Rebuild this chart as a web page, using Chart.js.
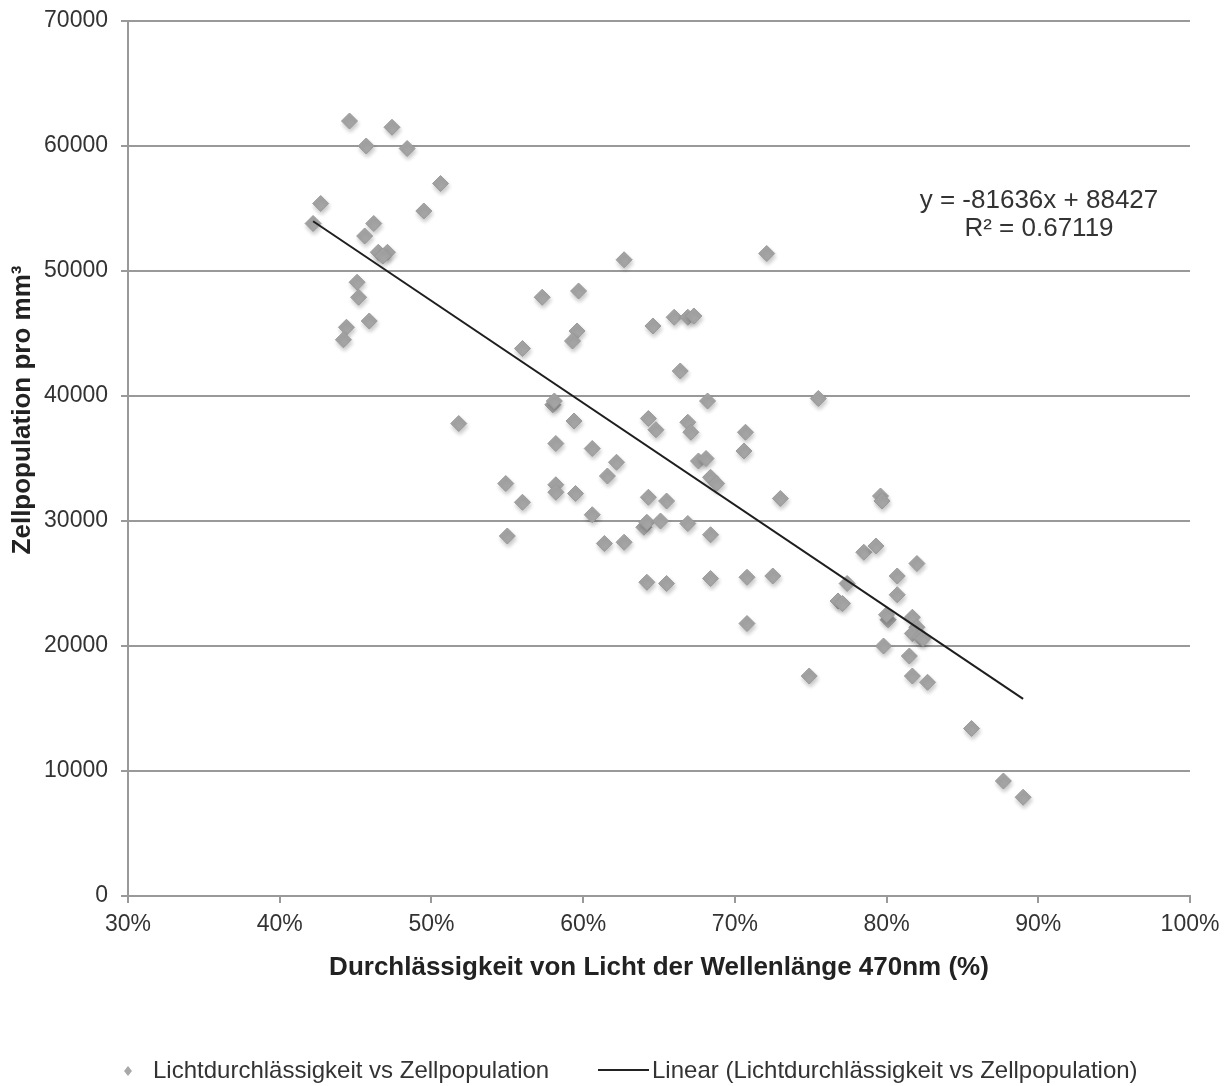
<!DOCTYPE html>
<html>
<head>
<meta charset="utf-8">
<script src="https://cdn.jsdelivr.net/npm/chart.js@4.4.1/dist/chart.umd.min.js"></script>
<style>
  body { margin: 0; background: #fff; }
  canvas { display: block; }
</style>
</head>
<body>
<canvas id="miGrafico" width="1227" height="1086"></canvas>
<script>
// Messwerte: Durchlässigkeit (%) und Zellpopulation pro mm³
const durchlaessigkeit = [
    42.2, 42.7, 44.6, 45.7, 47.4, 48.4, 50.6, 49.5, 46.2, 45.6, 46.5, 47.1, 46.8, 45.1, 45.2, 45.9, 44.4, 44.2, 51.8,
    62.7, 57.3, 59.7, 59.6, 59.3, 56.0, 58.0, 58.1, 59.4, 58.2, 60.6, 62.2, 61.6, 54.9, 58.2, 58.2, 59.5, 56.0, 60.6, 55.0, 61.4, 62.7,
    72.1, 64.6, 66.0, 66.9, 67.3, 66.4, 68.2, 75.5, 64.3, 64.8, 66.9, 67.1, 70.7, 70.6, 67.6, 68.1, 68.4, 68.8, 64.3, 65.5, 73.0,
    64.0, 64.2, 65.1, 66.9, 68.4, 64.2, 65.5, 68.4, 70.8, 72.5, 70.8,
    79.6, 79.7, 78.5, 79.3, 82.0, 80.7, 80.7, 77.4, 76.8, 77.1, 80.1, 80.0, 81.7, 82.0, 81.7, 82.2, 82.4, 79.8, 81.5, 81.7, 82.7,
    74.9, 85.6, 87.7, 89.0
];
const zellpopulation = [
    53800, 55400, 62000, 60000, 61500, 59800, 57000, 54800, 53800, 52800, 51500, 51500, 51200, 49100, 47900, 46000, 45500, 44500, 37800,
    50900, 47900, 48400, 45200, 44400, 43800, 39300, 39600, 38000, 36200, 35800, 34700, 33600, 33000, 32900, 32300, 32200, 31500, 30500, 28800, 28200, 28300,
    51400, 45600, 46300, 46300, 46400, 42000, 39600, 39800, 38200, 37300, 37900, 37100, 37100, 35600, 34800, 35000, 33500, 33000, 31900, 31600, 31800,
    29500, 29900, 30000, 29800, 28900, 25100, 25000, 25400, 25500, 25600, 21800,
    32000, 31600, 27500, 28000, 26600, 25600, 24100, 25000, 23600, 23400, 22100, 22500, 22300, 21500, 21000, 20700, 20600, 20000, 19200, 17600, 17100,
    17600, 13400, 9200, 7900
];
// Trendlinie (Anfang und Ende)
const trendX = [42.2, 89.0];
const trendY = [53980, 15770];

const xTicks = [30, 40, 50, 60, 70, 80, 90, 100];
const yTicks = [0, 10000, 20000, 30000, 40000, 50000, 60000, 70000];

const serieName = 'Lichtdurchlässigkeit vs Zellpopulation';
const trendName = 'Linear (Lichtdurchlässigkeit vs Zellpopulation)';
const gleichung = 'y = -81636x + 88427';
const bestimmtheit = 'R² = 0.67119';

const fuente = '"Liberation Sans", Arial, Helvetica, sans-serif';

const puntos = [];
for (let i = 0; i < durchlaessigkeit.length; i++) {
    puntos.push({ x: durchlaessigkeit[i], y: zellpopulation[i] });
}
const linea = [];
for (let i = 0; i < trendX.length; i++) {
    linea.push({ x: trendX[i], y: trendY[i] });
}

// Schatten unter den Rauten
const schatten = {
    id: 'schatten',
    beforeDatasetDraw(chart, args) {
        if (args.index !== 0) return;
        const c = chart.ctx;
        c.save();
        c.shadowColor = 'rgba(0,0,0,0.22)';
        c.shadowBlur = 4;
        c.shadowOffsetX = 1;
        c.shadowOffsetY = 3;
    },
    afterDatasetDraw(chart, args) {
        if (args.index !== 0) return;
        chart.ctx.restore();
    }
};

// Achsentitel Y, Gleichung und Legende
const extras = {
    id: 'extras',
    afterDraw(chart) {
        const c = chart.ctx;
        c.save();
        // y title
        c.translate(23, 410);
        c.rotate(-Math.PI / 2);
        c.font = 'bold 26px ' + fuente;
        c.fillStyle = '#222';
        c.textAlign = 'center';
        c.textBaseline = 'middle';
        c.fillText('Zellpopulation pro mm³', 0, 0);
        c.restore();

        c.save();
        c.font = '26px ' + fuente;
        c.fillStyle = '#333';
        c.textAlign = 'center';
        c.textBaseline = 'middle';
        c.fillText(gleichung, 1039, 201);
        c.fillText(bestimmtheit, 1039, 229);

        // legend
        const ly = 1071;
        c.fillStyle = '#a8a8a8';
        c.beginPath();
        c.moveTo(128, ly - 5);
        c.lineTo(132, ly);
        c.lineTo(128, ly + 5);
        c.lineTo(124, ly);
        c.closePath();
        c.fill();
        c.font = '24px ' + fuente;
        c.fillStyle = '#333';
        c.textAlign = 'left';
        c.fillText(serieName, 153, ly);
        c.strokeStyle = '#222';
        c.lineWidth = 2;
        c.beginPath();
        c.moveTo(598, ly - 1);
        c.lineTo(649, ly - 1);
        c.stroke();
        c.fillText(trendName, 652, ly);
        c.restore();
    }
};

const grafico = new Chart(document.getElementById('miGrafico'), {
    type: 'scatter',
    data: {
        datasets: [
            {
                label: serieName,
                data: puntos,
                pointStyle: 'rectRot',
                pointRadius: 8,
                backgroundColor: '#a5a5a5',
                borderColor: '#9a9a9a',
                borderWidth: 1,
                order: 1
            },
            {
                type: 'line',
                label: trendName,
                data: linea,
                borderColor: '#1e1e1e',
                borderWidth: 2,
                pointRadius: 0,
                fill: false,
                order: 0
            }
        ]
    },
    options: {
        responsive: false,
        animation: false,
        layout: { padding: { left: 0, right: 37, top: 21, bottom: 99 } },
        plugins: {
            legend: { display: false },
            tooltip: { enabled: false }
        },
        scales: {
            x: {
                type: 'linear',
                min: 30,
                max: 100,
                afterBuildTicks: s => { s.ticks = xTicks.map(v => ({ value: v })); },
                ticks: {
                    callback: v => v + '%',
                    color: '#333',
                    font: { size: 23, family: fuente },
                    padding: 8,
                    maxRotation: 0
                },
                grid: { drawOnChartArea: false, color: '#999', lineWidth: 2, tickLength: 7 },
                border: { color: '#999', width: 2 },
                title: {
                    display: true,
                    text: 'Durchlässigkeit von Licht der Wellenlänge 470nm (%)',
                    color: '#222',
                    font: { size: 26, weight: 'bold', family: fuente }
                },
                afterFit: s => { s.height = 91; s.paddingLeft = 0; s.paddingRight = 0; }
            },
            y: {
                min: 0,
                max: 70000,
                afterBuildTicks: s => { s.ticks = yTicks.map(v => ({ value: v })); },
                ticks: {
                    callback: v => String(v),
                    color: '#333',
                    font: { size: 23, family: fuente },
                    padding: 13
                },
                grid: { color: '#999', lineWidth: 2, tickLength: 7 },
                border: { color: '#999', width: 2 },
                afterFit: s => { s.width = 128; s.paddingTop = 0; s.paddingBottom = 0; }
            }
        }
    },
    plugins: [schatten, extras]
});
</script>
</body>
</html>
